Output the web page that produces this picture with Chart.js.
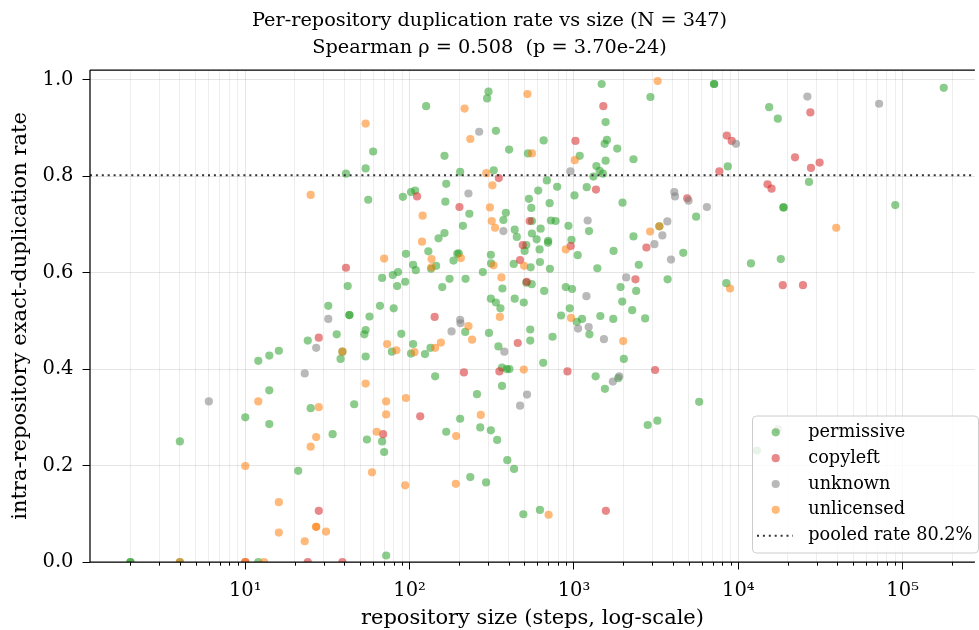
<!DOCTYPE html>
<html>
<head>
<meta charset="utf-8">
<script src="https://cdn.jsdelivr.net/npm/chart.js@4/dist/chart.umd.min.js"></script>
<style>
html,body{margin:0;padding:0;background:#fff;overflow:hidden}
#wrap{width:979px;height:630px;position:relative}
</style>
</head>
<body>
<div id="wrap"><canvas id="c" width="979" height="630"></canvas></div>
<script>
// ---------------- data ----------------
const categories = ['permissive', 'copyleft', 'unknown', 'unlicensed'];

const permissiveSize = [60,54,41,56,126,302,296,335,403,525,163,203,325,167,165,102,108,91,231,385,532,550,372,555,211,436,449,555,163,150,130,199,195,185,312,313,513,501,430,545,145,135,95,105,109,85,79,68,94,84,42,175,158,219,279,367,513,553,312,436,495,335,357,32,43,43,57,66,80,
1474,7125,7125,2919,1558,654,1587,1537,1834,1084,1558,2302,1369,1433,1501,1313,684,790,606,1196,1007,711,1975,724,773,627,593,697,695,926,1235,966,1054,618,621,714,1388,1742,2302,3309,5540,4625,2480,3715,1921,2391,1967,2261,2711,892,974,659,943,835,1120,1447,1735,8630,11940,8460,177900,15410,17400,26920,18840,18840,90200,18140,
24,12,14,16,14,10,14,25,4,21,2,2,12,4,
218,304,542,542,347,36,53,54,38,54,78,89,105,102,124,134,143,257,365,390,405,365,46,203,167,269,312,341,393,432,34,55,68,70,234,292,492,72,39,1040,1242,2011,741,650,1355,1543,1860,5780,2811,3218,621,12980];
const permissiveRate = [0.851,0.816,0.805,0.751,0.945,0.975,0.961,0.894,0.855,0.847,0.842,0.809,0.812,0.784,0.747,0.767,0.770,0.757,0.722,0.724,0.753,0.734,0.709,0.707,0.697,0.689,0.674,0.681,0.682,0.671,0.644,0.640,0.639,0.625,0.637,0.619,0.657,0.645,0.618,0.611,0.614,0.608,0.639,0.616,0.605,0.601,0.595,0.589,0.581,0.572,0.572,0.587,0.570,0.587,0.601,0.567,0.579,0.576,0.546,0.546,0.538,0.538,0.526,0.531,0.512,0.512,0.509,0.531,0.526,
0.991,0.991,0.991,0.964,0.912,0.874,0.875,0.867,0.857,0.842,0.832,0.835,0.821,0.811,0.805,0.799,0.791,0.778,0.770,0.777,0.760,0.744,0.745,0.708,0.707,0.691,0.669,0.666,0.662,0.697,0.686,0.668,0.636,0.648,0.622,0.608,0.609,0.645,0.675,0.696,0.716,0.641,0.616,0.586,0.570,0.562,0.540,0.522,0.505,0.570,0.566,0.562,0.526,0.511,0.504,0.510,0.504,0.820,0.619,0.578,0.983,0.943,0.919,0.788,0.735,0.735,0.740,0.628,
0.459,0.417,0.428,0.438,0.356,0.300,0.286,0.319,0.250,0.189,0,0,0,0,
0.477,0.475,0.482,0.459,0.447,0.472,0.472,0.481,0.421,0.426,0.436,0.473,0.452,0.432,0.431,0.444,0.385,0.348,0.403,0.400,0.400,0.365,0.327,0.297,0.270,0.279,0.273,0.253,0.211,0.193,0.265,0.254,0.250,0.228,0.176,0.165,0.099,0.0135,0.436,0.498,0.472,0.421,0.467,0.413,0.385,0.359,0.381,0.332,0.284,0.293,0.108,0.231];

const copyleftSize = [349,111,201,538,488,470,41,516,142,1509,1021,1361,956,2760,2367,4890,8510,9120,7670,27450,22140,31250,27680,15070,15940,18650,24750,24,28,455,214,352,116,69,28,39,913,3116,1564,10];
const copyleftRate = [0.796,0.758,0.736,0.707,0.657,0.626,0.610,0.581,0.508,0.945,0.873,0.772,0.655,0.652,0.586,0.754,0.884,0.873,0.810,0.932,0.839,0.828,0.817,0.783,0.774,0.574,0.574,0,0.465,0.454,0.393,0.395,0.302,0.265,0.106,0,0.395,0.398,0.106,0];

const unknownSize = [265,228,372,32,203,952,1212,3700,3451,3086,4080,4120,4980,6440,3895,2080,1191,9680,26320,71900,27,23,6,204,180,377,518,470,1059,1229,1522,1725,1886,17400];
const unknownRate = [0.892,0.764,0.686,0.504,0.502,0.810,0.708,0.706,0.677,0.659,0.767,0.758,0.749,0.736,0.627,0.590,0.551,0.867,0.965,0.950,0.444,0.391,0.333,0.495,0.478,0.436,0.347,0.324,0.484,0.487,0.462,0.374,0.385,0.275];

const unlicensedSize = [25,54,216,234,521,555,293,319,120,308,316,331,119,205,324,497,136,136,70,362,354,3231,1011,2906,3309,892,960,8910,39450,12,27,25,10,16,16,23,27,27,31,228,240,495,39,73,83,107,143,155,28,54,72,72,95,192,271,63,59,94,191,1994,701,4,10,13];
const unlicensedRate = [0.761,0.909,0.940,0.877,0.970,0.847,0.806,0.781,0.718,0.735,0.707,0.693,0.664,0.630,0.615,0.614,0.628,0.611,0.629,0.590,0.508,0.997,0.833,0.685,0.696,0.648,0.506,0.567,0.693,0.333,0.259,0.239,0.199,0.124,0.061,0.043,0.073,0.073,0.063,0.489,0.461,0.399,0.436,0.452,0.439,0.435,0.444,0.455,0.321,0.370,0.333,0.306,0.340,0.261,0.305,0.270,0.186,0.159,0.162,0.458,0.098,0,0,0];

const pooledRate = 0.802;
const xMajorTicks = [10, 100, 1000, 10000, 100000];
const xTickLabels = ['10\u00B9', '10\u00B2', '10\u00B3', '10\u2074', '10\u2075'];
const yTicks = [0, 0.2, 0.4, 0.6, 0.8, 1.0];
const yTickLabels = ['0.0', '0.2', '0.4', '0.6', '0.8', '1.0'];
const titleLines = ['Per-repository duplication rate vs size (N = 347)', 'Spearman \u03C1 = 0.508  (p = 3.70e-24)'];
const xAxisLabel = 'repository size (steps, log-scale)';
const yAxisLabel = 'intra-repository exact-duplication rate';

// ---------------- styling / layout ----------------
const X_MIN = 1.1353, X_MAX = 275270, Y_MIN = 0, Y_MAX = 1.02;
const FONT = '"DejaVu Serif", "Liberation Serif", serif';
const colors = {
  permissive: 'rgba(44,160,44,0.55)',
  copyleft: 'rgba(214,39,40,0.55)',
  unknown: 'rgba(127,127,127,0.55)',
  unlicensed: 'rgba(255,127,14,0.55)'
};
const seriesSize = {permissive: permissiveSize, copyleft: copyleftSize, unknown: unknownSize, unlicensed: unlicensedSize};
const seriesRate = {permissive: permissiveRate, copyleft: copyleftRate, unknown: unknownRate, unlicensed: unlicensedRate};

function isMajor(v) {
  const l = Math.log10(v);
  return Math.abs(l - Math.round(l)) < 1e-9;
}
const xAllTicks = [];
for (let k = 0; k <= 5; k++) {
  for (let m = 1; m <= 9; m++) {
    const v = m * Math.pow(10, k);
    if (v >= X_MIN && v <= X_MAX) xAllTicks.push(v);
  }
}

const datasets = categories.map((cat, i) => ({
  label: cat,
  type: 'scatter',
  data: seriesSize[cat].map((s, j) => ({x: s, y: seriesRate[cat][j]})),
  backgroundColor: colors[cat],
  borderWidth: 0,
  pointRadius: 4.1,
  pointHoverRadius: 4.1,
  clip: 0,
  order: 4 - i
}));
datasets.push({
  label: 'pooled rate ' + (pooledRate * 100).toFixed(1) + '%',
  type: 'line',
  data: [{x: X_MIN, y: pooledRate}, {x: X_MAX, y: pooledRate}],
  borderColor: '#333333',
  borderWidth: 2,
  borderDash: [2, 3.9],
  pointRadius: 0,
  fill: false,
  clip: 0,
  order: 0
});

const spinesPlugin = {
  id: 'spines',
  afterDatasetsDraw(chart) {
    const {ctx, chartArea: a} = chart;
    const x = chart.scales.x;
    ctx.save();
    ctx.strokeStyle = '#000';
    ctx.lineWidth = 1;
    ctx.beginPath();
    for (const t of x.ticks) {
      if (!isMajor(t.value)) {
        const px = Math.round(x.getPixelForValue(t.value)) + 0.5;
        ctx.moveTo(px, a.bottom);
        ctx.lineTo(px, a.bottom + 3.7);
      }
    }
    ctx.stroke();
    ctx.lineWidth = 1.25;
    ctx.beginPath();
    ctx.moveTo(a.left, a.top); ctx.lineTo(a.right, a.top);
    ctx.moveTo(a.left, a.top); ctx.lineTo(a.left, a.bottom);
    ctx.moveTo(a.left, a.bottom); ctx.lineTo(a.right, a.bottom);
    ctx.stroke();
    ctx.restore();
  }
};

const boxLegendPlugin = {
  id: 'boxLegend',
  afterDraw(chart) {
    const ctx = chart.ctx;
    const bx = 752.5, by = 416, bw = 226, bh = 137, r = 4;
    ctx.save();
    ctx.beginPath();
    ctx.moveTo(bx + r, by);
    ctx.lineTo(bx + bw - r, by);
    ctx.arcTo(bx + bw, by, bx + bw, by + r, r);
    ctx.lineTo(bx + bw, by + bh - r);
    ctx.arcTo(bx + bw, by + bh, bx + bw - r, by + bh, r);
    ctx.lineTo(bx + r, by + bh);
    ctx.arcTo(bx, by + bh, bx, by + bh - r, r);
    ctx.lineTo(bx, by + r);
    ctx.arcTo(bx, by, bx + r, by, r);
    ctx.closePath();
    ctx.fillStyle = 'rgba(255,255,255,0.8)';
    ctx.fill();
    ctx.strokeStyle = '#cccccc';
    ctx.lineWidth = 1;
    ctx.stroke();

    const rowY0 = 432.3, rowStep = 25.85, markX = 775.7, textX = 808.3;
    ctx.font = '17.7px ' + FONT;
    ctx.textBaseline = 'middle';
    ctx.textAlign = 'left';
    chart.data.datasets.forEach((ds, i) => {
      const y = rowY0 + i * rowStep;
      if (ds.type === 'line') {
        ctx.strokeStyle = ds.borderColor;
        ctx.lineWidth = ds.borderWidth;
        ctx.setLineDash(ds.borderDash);
        ctx.beginPath();
        ctx.moveTo(757, y);
        ctx.lineTo(793, y);
        ctx.stroke();
        ctx.setLineDash([]);
      } else {
        ctx.fillStyle = ds.backgroundColor;
        ctx.beginPath();
        ctx.arc(markX, y, 4.1, 0, Math.PI * 2);
        ctx.fill();
      }
      ctx.fillStyle = '#000';
      ctx.fillText(ds.label, textX, y);
    });
    ctx.restore();
  }
};

Chart.defaults.font.family = FONT;
Chart.defaults.color = '#000';

new Chart(document.getElementById('c'), {
  type: 'scatter',
  data: {datasets},
  options: {
    responsive: false,
    animation: false,
    events: [],
    layout: {padding: 0},
    plugins: {
      legend: {display: false},
      tooltip: {enabled: false},
      title: {
        display: true,
        text: titleLines,
        color: '#000',
        font: {family: FONT, size: 19.3, weight: 'normal', lineHeight: '27px'},
        padding: {top: 7.5, bottom: 8.5}
      }
    },
    scales: {
      x: {
        type: 'logarithmic',
        position: 'bottom',
        min: X_MIN,
        max: X_MAX,
        afterBuildTicks: (s) => { s.ticks = xAllTicks.map(v => ({value: v, major: isMajor(v)})); },
        afterFit: (s) => { s.height = 68; },
        ticks: {
          autoSkip: false,
          maxRotation: 0,
          minRotation: 0,
          padding: 10,
          color: '#000',
          font: {family: FONT, size: 19.5},
          callback: (v) => {
            const idx = xMajorTicks.findIndex(m => Math.abs(m - v) / m < 1e-9);
            return idx >= 0 ? xTickLabels[idx] : '';
          }
        },
        grid: {
          drawTicks: true,
          tickLength: 7.5,
          lineWidth: 1,
          color: (c) => (c.tick && isMajor(c.tick.value)) ? 'rgba(0,0,0,0.10)' : 'rgba(0,0,0,0.07)',
          tickColor: (c) => (c.tick && isMajor(c.tick.value)) ? '#000' : 'rgba(0,0,0,0)'
        },
        border: {display: false},
        title: {
          display: true,
          text: xAxisLabel,
          color: '#000',
          font: {family: FONT, size: 21, lineHeight: 1.0},
          padding: {top: 0, bottom: 0.5}
        }
      },
      y: {
        type: 'linear',
        min: Y_MIN,
        max: Y_MAX,
        afterBuildTicks: (s) => { s.ticks = yTicks.map(v => ({value: v})); },
        afterFit: (s) => { s.width = 90; },
        ticks: {
          padding: 9,
          color: '#000',
          font: {family: FONT, size: 19.5},
          callback: (v) => {
            const idx = yTicks.findIndex(t => Math.abs(t - v) < 1e-9);
            return idx >= 0 ? yTickLabels[idx] : '';
          }
        },
        grid: {
          drawTicks: true,
          tickLength: 7.5,
          lineWidth: 1,
          color: 'rgba(0,0,0,0.10)',
          tickColor: '#000'
        },
        border: {display: false},
        title: {
          display: true,
          text: yAxisLabel,
          color: '#000',
          font: {family: FONT, size: 21, lineHeight: 1.0},
          padding: {top: 10.5, bottom: 0}
        }
      }
    }
  },
  plugins: [spinesPlugin, boxLegendPlugin]
});
</script>
</body>
</html>
